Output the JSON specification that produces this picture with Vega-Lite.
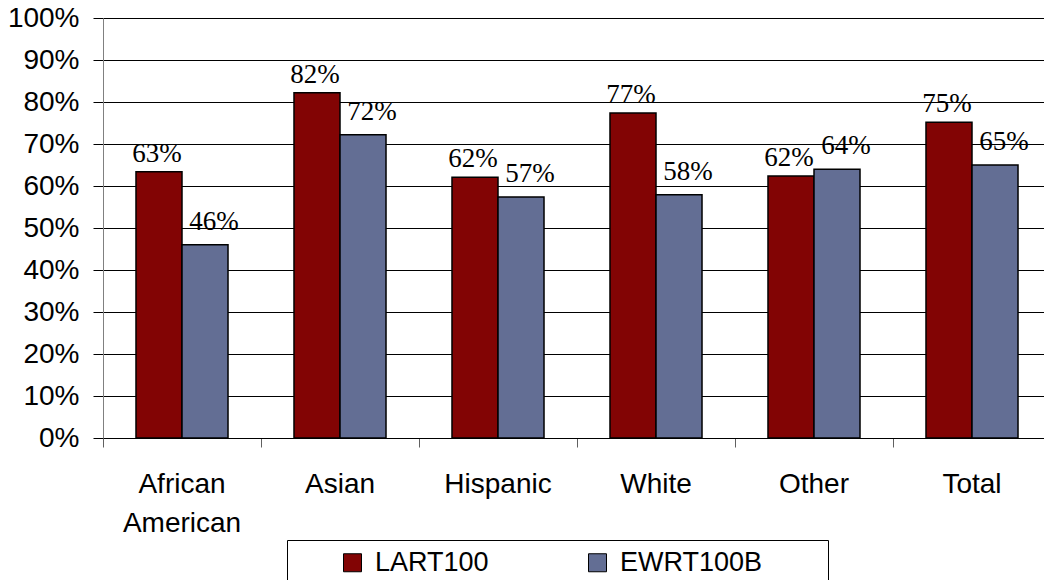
{
  "$schema": "https://vega.github.io/schema/vega-lite/v6.json",
  "width": 941,
  "height": 420,
  "autosize": {"type": "none"},
  "padding": {"left": 103, "top": 18, "right": 0, "bottom": 142},
  "background": "white",
  "config": {"view": {"stroke": null}},
  "data": {
    "values": [
      {"group": "African American", "series": "LART100", "value": 0.634},
      {"group": "African American", "series": "EWRT100B", "value": 0.46},
      {"group": "Asian", "series": "LART100", "value": 0.822},
      {"group": "Asian", "series": "EWRT100B", "value": 0.722},
      {"group": "Hispanic", "series": "LART100", "value": 0.621},
      {"group": "Hispanic", "series": "EWRT100B", "value": 0.574},
      {"group": "White", "series": "LART100", "value": 0.774},
      {"group": "White", "series": "EWRT100B", "value": 0.579},
      {"group": "Other", "series": "LART100", "value": 0.624},
      {"group": "Other", "series": "EWRT100B", "value": 0.64},
      {"group": "Total", "series": "LART100", "value": 0.752},
      {"group": "Total", "series": "EWRT100B", "value": 0.65}
    ]
  },
  "encoding": {
    "x": {
      "field": "group",
      "type": "nominal",
      "sort": null,
      "title": null,
      "scale": {"range": [0, 948], "paddingInner": 0, "paddingOuter": 0},
      "axis": {
        "labelAngle": 0,
        "labelFont": "Liberation Sans",
        "labelFontSize": 28,
        "labelColor": "black",
        "labelPadding": 23,
        "labelBaseline": "top",
        "labelLineHeight": 39,
        "labelExpr": "datum.label == 'African American' ? ['African', 'American'] : datum.label",
        "bandPosition": 0,
        "tickSize": 9,
        "tickColor": "#606060",
        "domainColor": "black",
        "grid": false
      }
    },
    "xOffset": {
      "field": "series",
      "type": "nominal",
      "sort": ["LART100", "EWRT100B"],
      "scale": {"paddingOuter": 0.717, "paddingInner": 0}
    },
    "y": {
      "field": "value",
      "type": "quantitative",
      "title": null,
      "scale": {"domain": [0, 1], "nice": false},
      "axis": {
        "values": [0, 0.1, 0.2, 0.3, 0.4, 0.5, 0.6, 0.7, 0.8, 0.9, 1],
        "format": ".0%",
        "labelFont": "Liberation Sans",
        "labelFontSize": 28,
        "labelColor": "black",
        "labelPadding": 14,
        "tickSize": 10,
        "tickColor": "black",
        "domainColor": "#808080",
        "gridColor": "black",
        "gridOpacity": 1,
        "gridWidth": 1
      }
    }
  },
  "layer": [
    {
      "mark": {"type": "bar", "stroke": "black", "strokeWidth": 1.5},
      "encoding": {
        "color": {
          "field": "series",
          "type": "nominal",
          "sort": ["LART100", "EWRT100B"],
          "scale": {"domain": ["LART100", "EWRT100B"], "range": ["#820404", "#636E94"]},
          "legend": {
            "orient": "none",
            "legendX": 184,
            "legendY": 522,
            "direction": "horizontal",
            "title": " ",
            "titleOrient": "right",
            "titlePadding": 57,
            "titleFontSize": 10,
            "strokeColor": "black",
            "fillColor": "white",
            "padding": 9,
            "symbolType": "square",
            "symbolSize": 324,
            "symbolStrokeColor": "black",
            "symbolStrokeWidth": 1,
            "symbolOpacity": 1,
            "symbolOffset": 43,
            "labelOffset": 9,
            "labelFont": "Liberation Sans",
            "labelFontSize": 27,
            "labelColor": "black",
            "columnPadding": 23,
            "gridAlign": "all"
          }
        }
      }
    },
    {
      "transform": [{"filter": "datum.series == 'LART100'"}],
      "mark": {"type": "text", "baseline": "alphabetic", "align": "center", "dx": -2, "dy": -10, "font": "Liberation Serif", "fontSize": 27, "color": "black"},
      "encoding": {"text": {"field": "value", "type": "quantitative", "format": ".0%"}}
    },
    {
      "transform": [{"filter": "datum.series == 'EWRT100B'"}],
      "mark": {"type": "text", "baseline": "alphabetic", "align": "center", "dx": 9, "dy": -15, "font": "Liberation Serif", "fontSize": 27, "color": "black"},
      "encoding": {"text": {"field": "value", "type": "quantitative", "format": ".0%"}}
    }
  ]
}
